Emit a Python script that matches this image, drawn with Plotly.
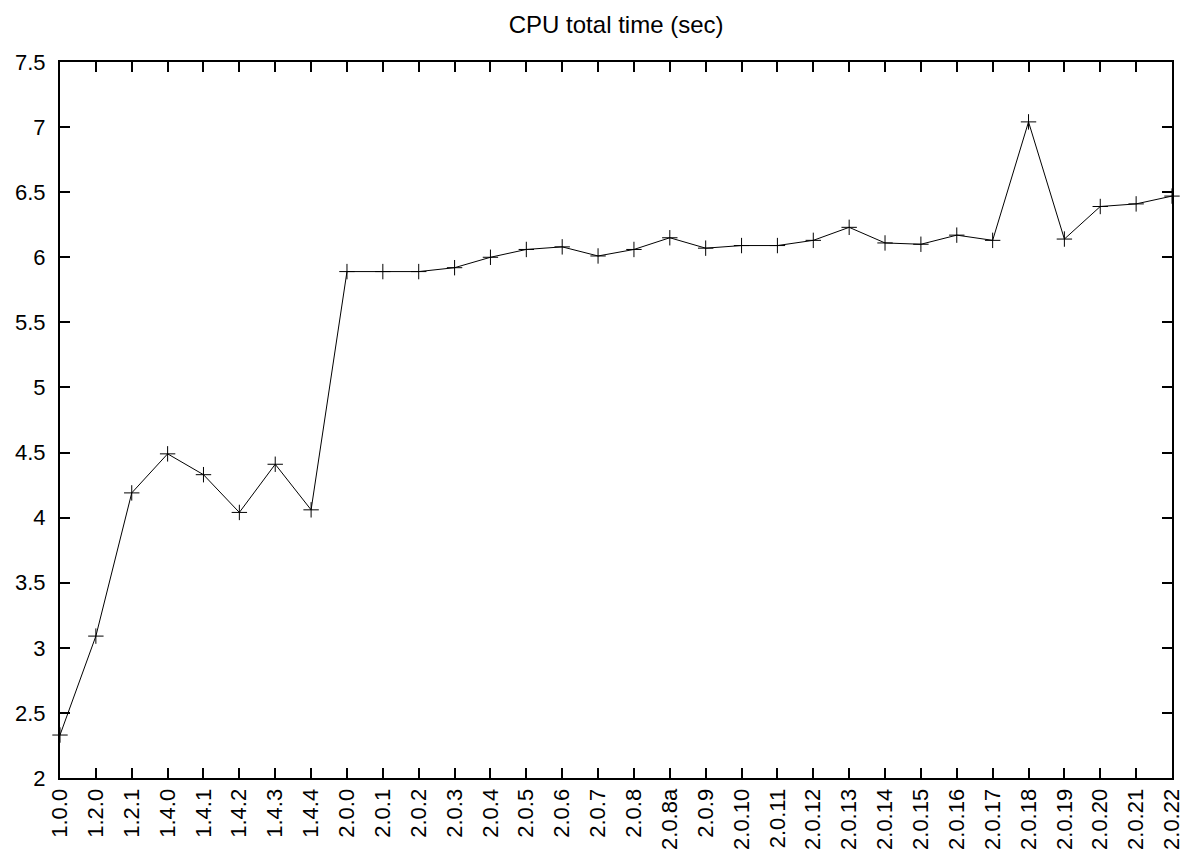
import plotly.graph_objects as go

versions = ["1.0.0", "1.2.0", "1.2.1", "1.4.0", "1.4.1", "1.4.2", "1.4.3", "1.4.4",
            "2.0.0", "2.0.1", "2.0.2", "2.0.3", "2.0.4", "2.0.5", "2.0.6", "2.0.7",
            "2.0.8", "2.0.8a", "2.0.9", "2.0.10", "2.0.11", "2.0.12", "2.0.13", "2.0.14",
            "2.0.15", "2.0.16", "2.0.17", "2.0.18", "2.0.19", "2.0.20", "2.0.21", "2.0.22"]
cpu_time = [2.33, 3.09, 4.19, 4.49, 4.33, 4.04, 4.41, 4.06,
            5.89, 5.89, 5.89, 5.92, 6.00, 6.06, 6.08, 6.01,
            6.06, 6.15, 6.07, 6.09, 6.09, 6.13, 6.23, 6.11,
            6.10, 6.17, 6.13, 7.04, 6.14, 6.39, 6.41, 6.47]
y_ticks = [2, 2.5, 3, 3.5, 4, 4.5, 5, 5.5, 6, 6.5, 7, 7.5]
y_labels = ["2", "2.5", "3", "3.5", "4", "4.5", "5", "5.5", "6", "6.5", "7", "7.5"]

x_pos = list(range(len(versions)))

fig = go.Figure()
fig.add_trace(go.Scatter(
    x=x_pos, y=cpu_time, mode="lines+markers",
    line=dict(color="black", width=1),
    marker=dict(symbol="cross-thin", size=11, line=dict(color="black", width=1)),
    cliponaxis=False, showlegend=False,
))

font = "Liberation Sans, Arial, Helvetica, sans-serif"
fig.update_layout(
    width=1186, height=865,
    margin=dict(l=60, r=14, t=62, b=87, autoexpand=False),
    paper_bgcolor="white", plot_bgcolor="white",
    font=dict(family=font, size=22, color="black"),
    title=dict(text="CPU total time (sec)", x=0.5195, xanchor="center",
               y=0.972, yanchor="middle", font=dict(size=24, family=font)),
    xaxis=dict(
        range=[0, len(versions) - 1], tickmode="array", tickvals=x_pos, ticktext=versions,
        tickangle=-90, ticks="inside", ticklen=10, tickwidth=1.5, tickcolor="black",
        showline=True, linecolor="black", linewidth=2, mirror="ticks",
        showgrid=False, zeroline=False, tickfont=dict(size=22), automargin=False,
    ),
    yaxis=dict(
        range=[2, 7.5], tickmode="array", tickvals=y_ticks, ticktext=y_labels,
        ticks="inside", ticklen=10, tickwidth=1.5, tickcolor="black",
        showline=True, linecolor="black", linewidth=2, mirror="ticks",
        showgrid=False, zeroline=False, tickfont=dict(size=22), automargin=False,
        ticklabelstandoff=8,
    ),
)

fig.write_html("out.html")
